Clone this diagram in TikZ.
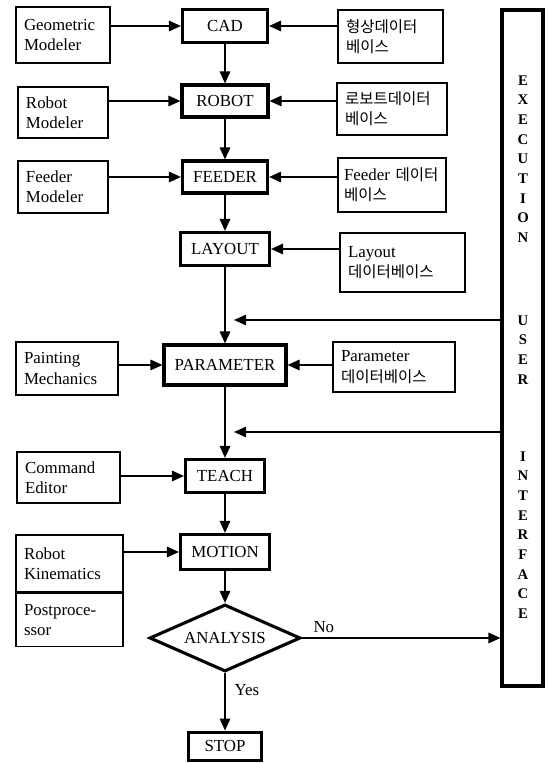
\documentclass[tikz,border=0pt]{standalone}
\usepackage{fontspec}
\setmainfont{Liberation Serif}
\newfontfamily\kr[Scale=0.92]{Noto Sans CJK KR}
\usetikzlibrary{arrows.meta,shapes.geometric}

\begin{document}
\begin{tikzpicture}[
  x=1cm,
  y=1cm,
  >={Triangle[length=3mm,width=2.6mm]},
  every node/.style={font=\fontsize{12}{14.5}\selectfont},
  box/.style={draw, line width=1pt, inner xsep=0.2cm, inner ysep=2pt, align=left},
  stage/.style={draw, line width=2.2pt, inner sep=2pt, align=center},
  flow/.style={->, line width=1.3pt},
  bartext/.style={font=\fontsize{10.5}{14}\selectfont\bfseries, align=center},
]
  \useasboundingbox (0,0) rectangle (13.75,19.075);
  \def\xc{5.625}

  % main column
  \node[stage, minimum width=2.125cm, minimum height=0.825cm] (cad) at (\xc,18.425) {CAD};
  \node[stage, minimum width=2.15cm, minimum height=0.8cm] (robot) at (\xc,16.55) {ROBOT};
  \node[stage, minimum width=2.125cm, minimum height=0.8cm] (feeder) at (\xc,14.65) {FEEDER};
  \node[stage, minimum width=2.225cm, minimum height=0.825cm] (layout) at (\xc,12.85) {LAYOUT};
  \node[stage, minimum width=3.05cm, minimum height=1.0cm] (param) at (\xc,9.95) {PARAMETER};
  \node[stage, minimum width=1.975cm, minimum height=0.825cm] (teach) at (\xc,7.175) {TEACH};
  \node[stage, minimum width=2.225cm, minimum height=0.875cm] (motion) at (\xc,5.275) {MOTION};
  \node[diamond, draw, line width=2.2pt, aspect=2.25, inner sep=0pt,
        minimum width=3.775cm, minimum height=1.675cm] (analysis) at (\xc,3.125) {ANALYSIS};
  \node[stage, minimum width=1.825cm, minimum height=0.7cm] (stop) at (\xc,0.42) {STOP};

  % modelers on the left
  \node[box, text width=1.95cm, minimum height=1.4cm] (geo) at (1.575,18.2) {Geometric\\Modeler};
  \node[box, text width=1.85cm, minimum height=1.275cm] (robmod) at (1.575,16.2625) {Robot\\Modeler};
  \node[box, text width=1.85cm, minimum height=1.3cm] (feedmod) at (1.575,14.4) {Feeder\\Modeler};
  \node[box, text width=2.15cm, minimum height=1.325cm] (paint) at (1.675,9.8625) {Painting\\Mechanics};
  \node[box, text width=2.175cm, minimum height=1.275cm] (cmd) at (1.7125,7.1375) {Command\\Editor};
  \node[box, text width=2.275cm, minimum height=1.425cm] (kin) at (1.7375,4.9875) {Robot\\Kinematics};
  \node[box, text width=2.275cm, minimum height=1.325cm, anchor=north] (post) at (kin.south) {Postproce-\\ssor};

  % databases on the right
  \node[box, text width=2.225cm, minimum height=1.325cm] (shapedb) at (9.7625,18.1625) {{\kr 형상데이터}\\{\kr 베이스}};
  \node[box, text width=2.35cm, minimum height=1.3cm] (robdb) at (9.8,16.35) {{\kr 로보트데이터}\\{\kr 베이스}};
  \node[box, text width=2.4cm, inner xsep=0.15cm, minimum height=1.35cm] (feeddb) at (9.8,14.45) {Feeder {\kr 데이터}\\{\kr 베이스}};
  \node[box, text width=2.725cm, minimum height=1.475cm] (laydb) at (10.0625,12.5125) {Layout\\{\kr 데이터베이스}};
  \node[box, text width=2.65cm, minimum height=1.25cm] (pardb) at (9.85,9.9) {Parameter\\{\kr 데이터베이스}};

  % user interface bar
  \node[draw, line width=2.2pt, minimum width=1.025cm, minimum height=16.9cm] (ui) at (13.0625,10.375) {};
  \node[bartext] (uiexe) at (13.075,15.1) {E\\X\\E\\C\\U\\T\\I\\O\\N};
  \node[bartext] (uiuser) at (13.075,10.325) {U\\S\\E\\R};
  \node[bartext] (uiint) at (13.075,5.7) {I\\N\\T\\E\\R\\F\\A\\C\\E};

  % main flow
  \draw[flow] (cad) -- (robot);
  \draw[flow] (robot) -- (feeder);
  \draw[flow] (feeder) -- (layout);
  \draw[flow] (layout) -- (param);
  \draw[flow] (param) -- (teach);
  \draw[flow] (teach) -- (motion);
  \draw[flow] (motion) -- (analysis);
  \draw[flow] (analysis) -- (stop) node[pos=0.3, right=1mm] {Yes};

  % inputs from the left
  \draw[flow] (cad.west -| geo.east) -- (cad.west);
  \draw[flow] (robot.west -| robmod.east) -- (robot.west);
  \draw[flow] (feeder.west -| feedmod.east) -- (feeder.west);
  \draw[flow] (param.west -| paint.east) -- (param.west);
  \draw[flow] (teach.west -| cmd.east) -- (teach.west);
  \draw[flow] (motion.west -| kin.east) -- (motion.west);

  % inputs from the right
  \draw[flow] (cad.east -| shapedb.west) -- (cad.east);
  \draw[flow] (robot.east -| robdb.west) -- (robot.east);
  \draw[flow] (feeder.east -| feeddb.west) -- (feeder.east);
  \draw[flow] (layout.east -| laydb.west) -- (layout.east);
  \draw[flow] (param.east -| pardb.west) -- (param.east);

  % back from the interface
  \coordinate (back1) at (5.85,11.075);
  \coordinate (back2) at (5.85,8.275);
  \draw[flow] (back1 -| ui.west) -- (back1);
  \draw[flow] (back2 -| ui.west) -- (back2);
  \draw[flow] (analysis.east) -- (analysis.east -| ui.west) node[pos=0.11, above] {No};
\end{tikzpicture}
\end{document}
